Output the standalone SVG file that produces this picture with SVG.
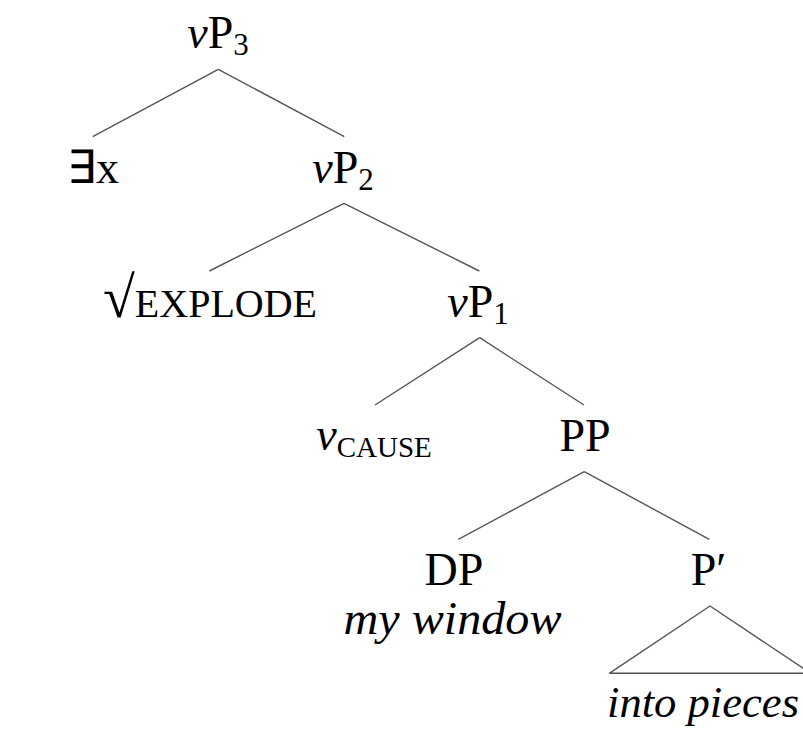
<svg xmlns="http://www.w3.org/2000/svg" width="803" height="730" viewBox="0 0 803 730">
<style>
text{font-family:"Liberation Serif","Times New Roman",serif;font-size:46px;fill:#000;text-anchor:middle}
.it{font-style:italic}
.sub{font-size:31px}
.sc{font-size:29px}
#edges line,#edges polyline{stroke:#555;stroke-width:1.4;fill:none}
</style>
<rect width="803" height="730" fill="#fff"/>
<g id="edges">
<line x1="218.3" y1="69.3" x2="92.7" y2="136.7"/>
<line x1="218.3" y1="69.3" x2="344.3" y2="136.7"/>
<line x1="344" y1="203.3" x2="209.3" y2="271"/>
<line x1="344" y1="203.3" x2="479.3" y2="271"/>
<line x1="479.7" y1="337.7" x2="375" y2="405"/>
<line x1="479.7" y1="337.7" x2="584" y2="405"/>
<line x1="584.3" y1="471.7" x2="458.3" y2="539.3"/>
<line x1="584.3" y1="471.7" x2="709.3" y2="539.3"/>
<polyline points="609.3,673.3 710,606 810.7,673.3 609.3,673.3"/>
</g>
<g id="vP3"><text x="218" y="48"><tspan class="it">v</tspan>P<tspan class="sub" dy="7">3</tspan></text></g>
<g id="exists"><text x="93" y="183">∃x</text></g>
<g id="vP2"><text x="343" y="183"><tspan class="it">v</tspan>P<tspan class="sub" dy="7">2</tspan></text></g>
<g id="explode"><text x="210" y="317"><tspan font-size="58">√</tspan><tspan font-size="40">EXPLODE</tspan></text></g>
<g id="vP1"><text x="478" y="317"><tspan class="it">v</tspan>P<tspan class="sub" dy="7">1</tspan></text></g>
<g id="vcause"><text x="374" y="450"><tspan class="it">v</tspan><tspan class="sc" dy="7">CAUSE</tspan></text></g>
<g id="PP"><text x="585" y="451">PP</text></g>
<g id="DP"><text x="454" y="585">DP</text><text class="it" x="452.5" y="634" textLength="218" lengthAdjust="spacingAndGlyphs">my window</text></g>
<g id="Pbar"><text x="708.5" y="585">P′</text><text class="it" x="607" y="717" style="text-anchor:start;font-size:44px" textLength="192" lengthAdjust="spacingAndGlyphs">into pieces</text></g>
</svg>
